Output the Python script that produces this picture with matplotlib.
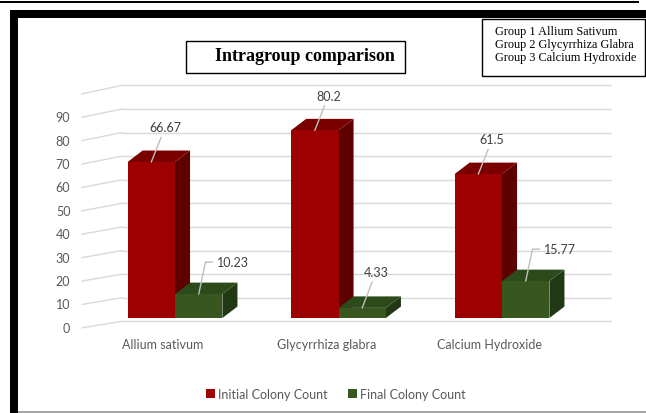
import matplotlib.pyplot as plt
from matplotlib.patches import Polygon, Rectangle, Patch

# chart data
groups = ['Allium sativum', 'Glycyrrhiza glabra', 'Calcium Hydroxide']
initial = [66.67, 80.2, 61.5]
final = [10.23, 4.33, 15.77]
series_names = ['Initial Colony Count', 'Final Colony Count']
yticks = [0, 10, 20, 30, 40, 50, 60, 70, 80, 90]
group_notes = ['Group 1 Allium Sativum', 'Group 2 Glycyrrhiza Glabra', 'Group 3 Calcium Hydroxide']

W, H = 646, 414
fig = plt.figure(figsize=(W / 100, H / 100), dpi=100)
plt.rcParams['font.family'] = ['Lato', 'DejaVu Sans']


def fx(x, y):
    # pixel position -> figure fraction
    return x / W, 1 - y / H


# main axes, x in category units, y in value units
x0, x1 = -0.7, 2.85
y0, y1 = -16, 105
left, bottom = fx(175 + 163.5 * x0, 319 - 2.34 * y0)
right, top = fx(175 + 163.5 * x1, 319 - 2.34 * y1)
ax = fig.add_axes([left, bottom, right - left, top - bottom])
ax.set_xlim(x0, x1)
ax.set_ylim(y0, y1)
ax.axis('off')

# 3d look
bw = 0.29          # bar width
dx, dy = 0.092, 4.9  # bar depth offset
wall_front, wall_back, wall_end = -0.569, -0.324, 2.667
grid_col = '#D9D9D9'
text_col = '#595959'

for v in yticks + [100]:
    yb = v * 1.008 - 1.4
    yf = v - 4.2
    ax.plot([wall_back, wall_end], [yb, yb], color=grid_col, lw=1, zorder=1)
    ax.plot([wall_front, wall_back], [yf, yb], color=grid_col, lw=1, zorder=1)
    if v in yticks:
        ax.text(-0.64, yf, str(v), ha='right', va='center', fontsize=9, color=text_col)

colors = {
    'red': ('#9C0000', '#7A0000', '#5C0000'),
    'green': ('#38571F', '#2C4A1A', '#213814'),
}


def bar3d(xl, h, cols, z):
    xr = xl + bw
    front = Polygon([(xl, 0), (xr, 0), (xr, h), (xl, h)], closed=True, fc=cols[0], ec='none', zorder=z)
    topf = Polygon([(xl, h), (xr, h), (xr + dx, h + dy), (xl + dx, h + dy)], closed=True, fc=cols[1], ec='none', zorder=z)
    side = Polygon([(xr, 0), (xr + dx, dy), (xr + dx, h + dy), (xr, h)], closed=True, fc=cols[2], ec='none', zorder=z)
    for p in (side, topf, front):
        ax.add_patch(p)


lead = dict(arrowstyle='-', color='#BFBFBF', lw=1, shrinkA=1, shrinkB=0)
for i in range(len(groups)):
    bar3d(i - bw, initial[i], colors['red'], 3 + 2 * i)
    bar3d(i, final[i], colors['green'], 4 + 2 * i)

    ax.annotate(f'{initial[i]:g}', xy=(i - bw / 2, initial[i]), xytext=(10, 25),
                textcoords='offset points', ha='center', va='center',
                fontsize=9, color='#404040', arrowprops=lead, zorder=20)
    if final[i] < 8:
        ax.annotate(f'{final[i]:g}', xy=(i + bw / 2, final[i]), xytext=(10, 26),
                    textcoords='offset points', ha='center', va='center',
                    fontsize=9, color='#404040', arrowprops=lead, zorder=20)
    else:
        ax.annotate(f'{final[i]:g}', xy=(i + bw / 2, final[i]), xytext=(13, 23),
                    textcoords='offset points', ha='left', va='center',
                    fontsize=9, color='#404040', zorder=20,
                    arrowprops=dict(lead, connectionstyle='angle,angleA=0,angleB=78,rad=0'))

    ax.text(i - 0.075, -11.1, groups[i], ha='center', va='center', fontsize=9, color=text_col)

# legend
handles = [Patch(fc=colors['red'][0]), Patch(fc=colors['green'][0])]
fig.legend(handles, series_names, loc='center', bbox_to_anchor=(0.52, 0.046), ncol=2,
           frameon=False, fontsize=9, handlelength=0.7, handleheight=0.7,
           handletextpad=0.3, columnspacing=1.6, labelcolor=text_col)

# frame decorations
def rect(xa, ya, xb, yb, **kw):
    (a, b) = fx(xa, yb)
    (c, d) = fx(xb, ya)
    fig.add_artist(Rectangle((a, b), c - a, d - b, transform=fig.transFigure, **kw))


rect(0, 1.5, 639, 3.5, fc='black', ec='none')
rect(10, 11, 646, 19, fc='black', ec='none')
rect(10, 11, 18, 414, fc='black', ec='none')
rect(18, 412, 646, 414, fc='#A6A6A6', ec='none')

# title box
rect(186, 42, 405, 74, fc='white', ec='black', lw=1)
tx, ty = fx(305, 57)
fig.text(tx, ty, 'Intragroup comparison', ha='center', va='center', fontsize=13,
         fontweight='bold', family='Liberation Serif')

# group note box
rect(482, 20, 645, 77, fc='white', ec='black', lw=1)
for k, note in enumerate(group_notes):
    nx, ny = fx(495, 32 + 13 * k)
    fig.text(nx, ny, note, ha='left', va='center', fontsize=8.8, family='Liberation Serif')

fig.savefig('out.png', dpi=100)
